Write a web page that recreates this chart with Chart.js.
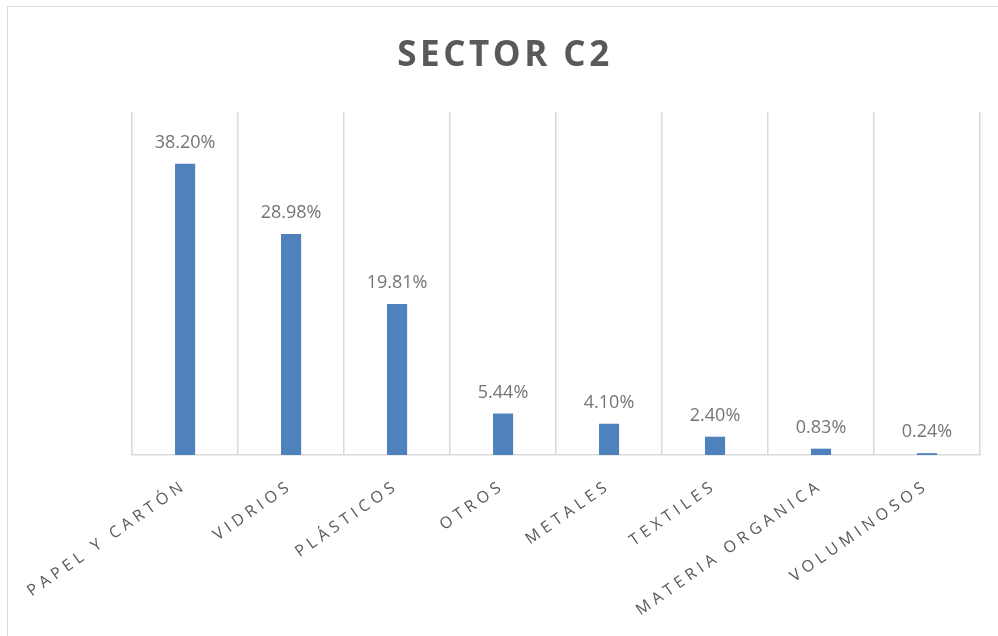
<!DOCTYPE html>
<html lang="es">
<head>
  <meta charset="UTF-8">
  <title>Sector C2</title>
  <script src="https://cdn.jsdelivr.net/npm/chart.js"></script>
  <style>
    html, body {
      margin: 0;
      padding: 0;
      background: #ffffff;
    }
    #frame {
      position: absolute;
      left: 7px;
      top: 6px;
      width: 991px;
      height: 630px;
      border-top: 1.5px solid #d9d9d9;
      border-left: 1.5px solid #d9d9d9;
    }
    #chartContainer {
      position: absolute;
      left: 0;
      top: 0;
      width: 998px;
      height: 636px;
    }
  </style>
</head>
<body>
  <div id="frame"></div>
  <div id="chartContainer">
    <canvas id="sectorChart"></canvas>
  </div>

  <script>
    // data
    const categories = ['PAPEL Y CARTÓN', 'VIDRIOS', 'PLÁSTICOS', 'OTROS', 'METALES', 'TEXTILES', 'MATERIA ORGANICA', 'VOLUMINOSOS'];
    const percentages = [38.20, 28.98, 19.81, 5.44, 4.10, 2.40, 0.83, 0.24];
    const chartTitle = 'SECTOR C2';

    const TITLE_SPACING = '3.5px';
    const LABEL_SPACING = '4.5px';

    // letter spacing for title / tick labels, plus value labels above the bars
    const spacingAndLabels = {
      id: 'spacingAndLabels',
      beforeLayout(chart) {
        chart.ctx.letterSpacing = LABEL_SPACING;
      },
      beforeDraw(chart) {
        chart.ctx.letterSpacing = TITLE_SPACING;
      },
      afterDatasetsDraw(chart) {
        const ctx = chart.ctx;
        const meta = chart.getDatasetMeta(0);
        ctx.save();
        ctx.letterSpacing = '0px';
        ctx.font = '18px "Open Sans", sans-serif';
        ctx.fillStyle = '#757575';
        ctx.textAlign = 'center';
        ctx.textBaseline = 'alphabetic';
        meta.data.forEach((bar, i) => {
          ctx.fillText(percentages[i].toFixed(2) + '%', bar.x, bar.y - 16);
        });
        ctx.restore();
        // tick labels are drawn after this hook (ticks z = 1)
        ctx.letterSpacing = LABEL_SPACING;
      }
    };

    const ctx = document.getElementById('sectorChart').getContext('2d');

    const chart = new Chart(ctx, {
      type: 'bar',
      data: {
        labels: categories,
        datasets: [{
          label: chartTitle,
          data: percentages,
          backgroundColor: '#4f81bd',
          borderWidth: 0,
          barPercentage: 0.19,
          categoryPercentage: 1.0
        }]
      },
      options: {
        responsive: true,
        maintainAspectRatio: false,
        animation: false,
        layout: {
          padding: { left: 30, right: 18, top: 0, bottom: 0 }
        },
        plugins: {
          legend: { display: false },
          tooltip: { enabled: false },
          title: {
            display: true,
            text: chartTitle,
            color: '#595959',
            font: { family: '"Open Sans", sans-serif', size: 35, weight: 'bold', lineHeight: 1.2 },
            padding: { top: 35, bottom: 35 }
          }
        },
        scales: {
          x: {
            grid: {
              display: true,
              offset: true,
              color: '#d9d9d9',
              lineWidth: 1.5,
              drawTicks: false
            },
            border: {
              display: true,
              color: '#d9d9d9',
              width: 1.5
            },
            ticks: {
              z: 1,
              color: '#595959',
              font: { family: '"Open Sans", sans-serif', size: 16 },
              minRotation: 35,
              maxRotation: 35,
              autoSkip: false,
              padding: 21
            },
            afterFit(scale) {
              scale.height = 181;
            }
          },
          y: {
            display: true,
            min: 0,
            max: 45,
            grid: { display: false },
            border: { display: false },
            ticks: { display: false },
            afterFit(scale) {
              scale.width = 102;
            }
          }
        }
      },
      plugins: [spacingAndLabels]
    });
  </script>
</body>
</html>
